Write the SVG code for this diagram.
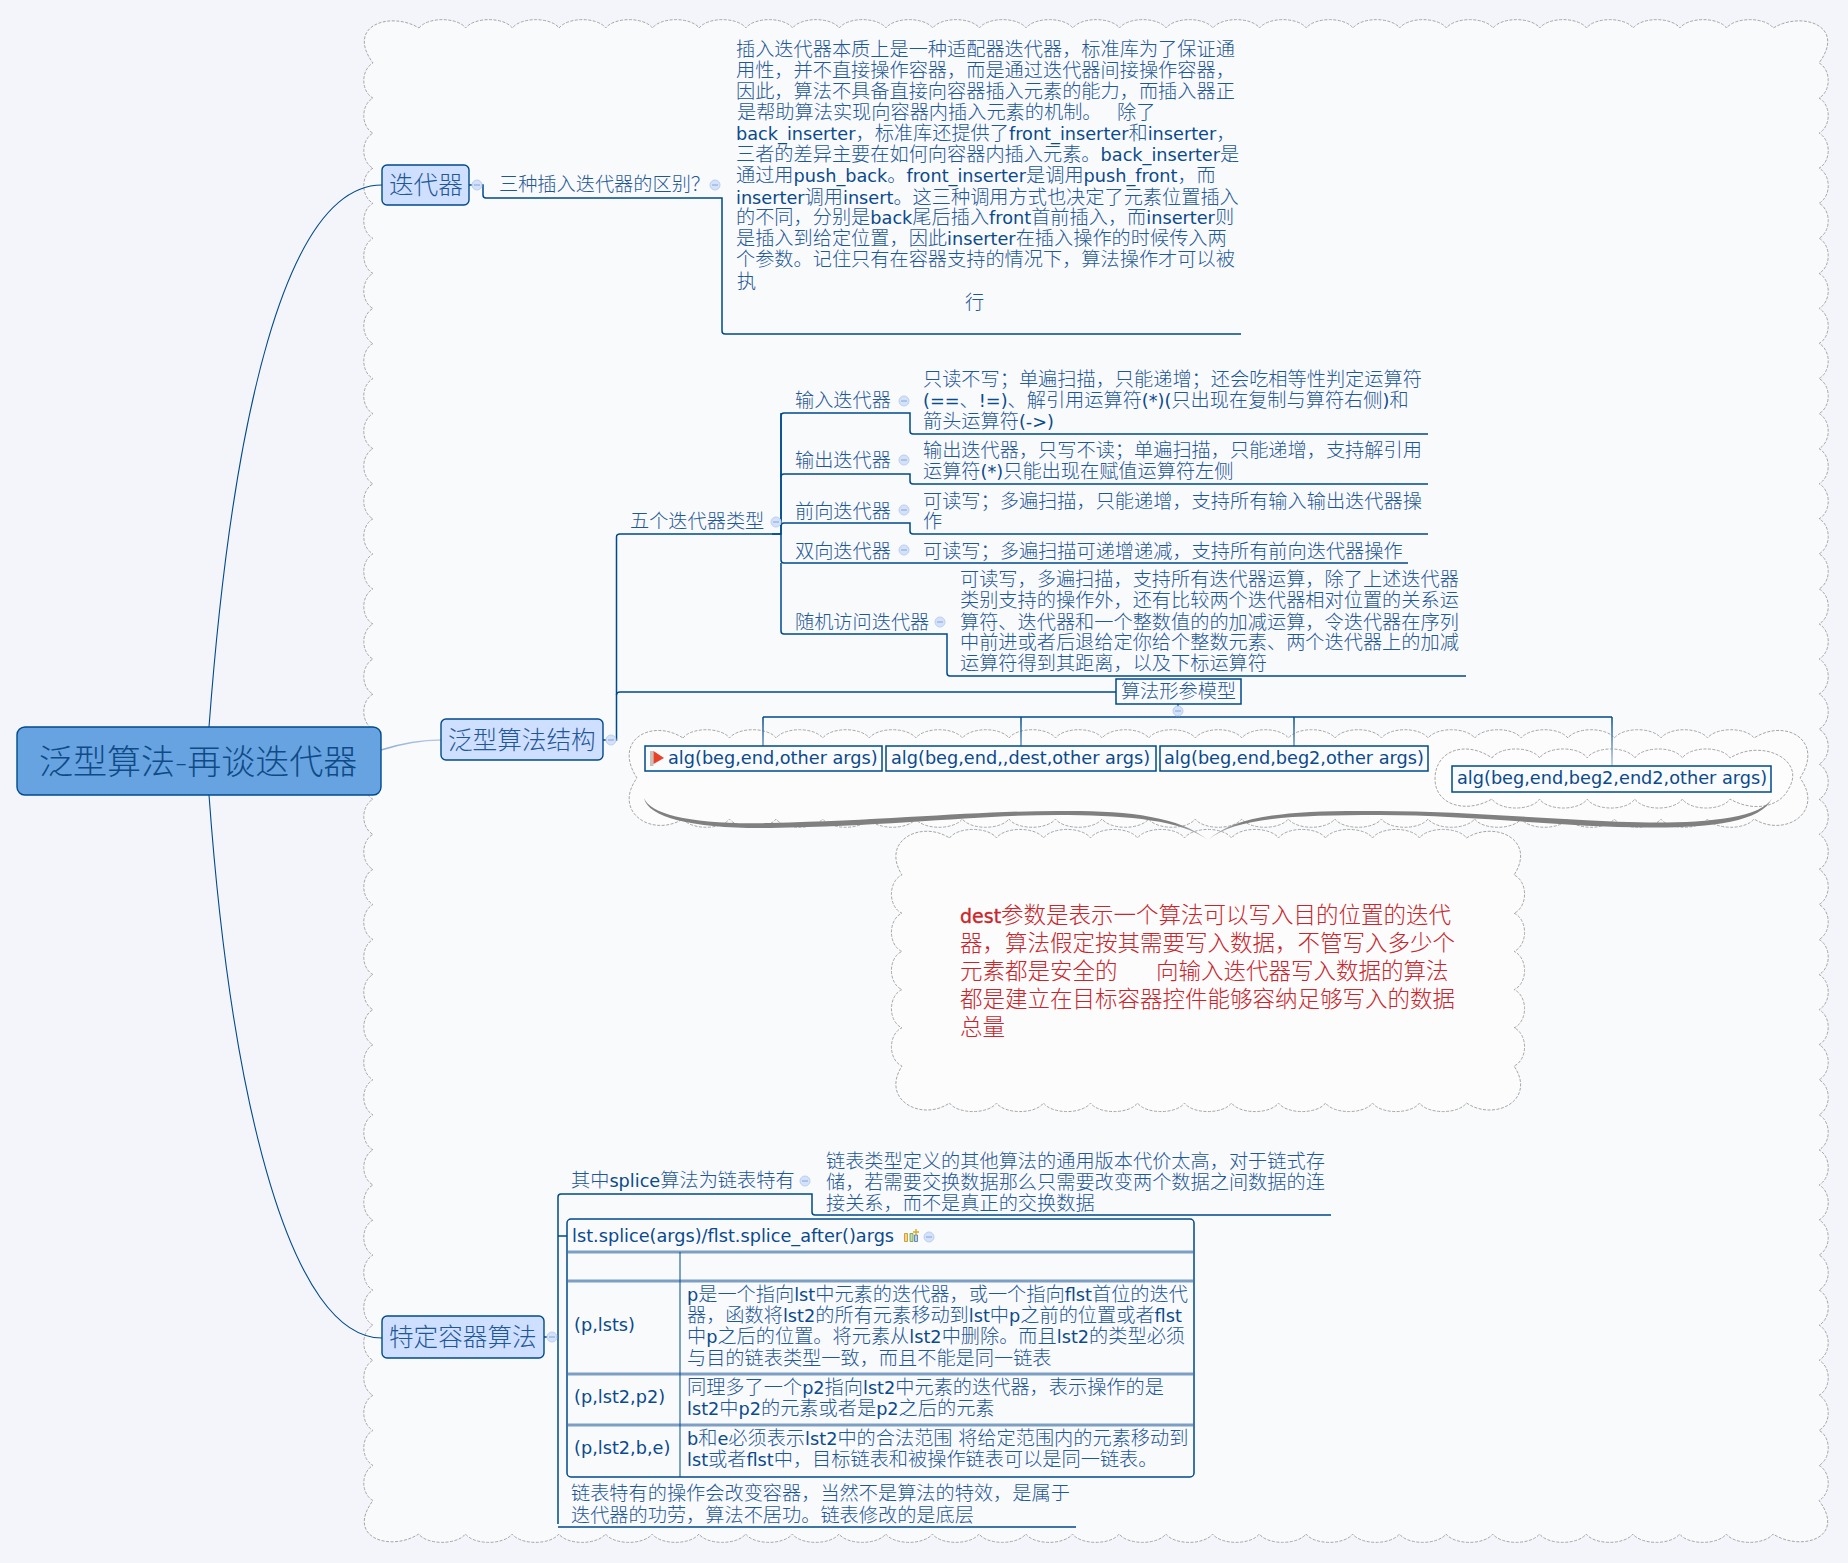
<svg xmlns="http://www.w3.org/2000/svg" width="1848" height="1563" viewBox="0 0 1848 1563">
<style>
text{font-family:"DejaVu Sans","Noto Sans CJK SC",sans-serif;fill:#1f5895;font-weight:300}
.t{font-size:19.2px}
.l{font-size:17.7px;fill:#0b4a8c;font-weight:400}
.a{font-size:17.7px;fill:#0b4a8c;font-weight:400}
.n1{font-size:24.6px}
.r{font-size:22.5px;fill:#c9252b}
.r .l{font-size:19px;font-weight:400;fill:#c9252b;stroke:#c9252b;stroke-width:.35}
.c{fill:#fff;fill-opacity:.45;stroke:#a6a6a6;stroke-width:1;stroke-dasharray:3 1.5}
.big{fill:#f9fafc;stroke:#a6a6a6;stroke-width:1;stroke-dasharray:3 1.5}
.cn{fill:none;stroke:#004a8c;stroke-width:1.5}
.cu{fill:none;stroke:#004a8c;stroke-width:1.1}
.lv1{fill:#cfdfff;stroke:#004a8c;stroke-width:1.4}
.box{fill:#fafbfd;stroke:#004a8c;stroke-width:1.5}
.h{fill:#d3e1fa;stroke:#bcd0f0;stroke-width:1}
.hm{stroke:#88a6d0;stroke-width:1}
.rule{stroke:#7d9fc4;stroke-width:3}
</style>
<defs>
<linearGradient id="fade" gradientUnits="userSpaceOnUse" x1="0" y1="717" x2="0" y2="766"><stop offset="0" stop-color="#004a8c"/><stop offset="1" stop-color="#b5c9e2"/></linearGradient>
<linearGradient id="fade2" gradientUnits="userSpaceOnUse" x1="381" y1="0" x2="441" y2="0"><stop offset="0" stop-color="#8fb0d4"/><stop offset="1" stop-color="#b9cbe2"/></linearGradient>
<linearGradient id="swL" gradientUnits="userSpaceOnUse" x1="1175" y1="0" x2="1208" y2="0"><stop offset="0" stop-color="#808080"/><stop offset="1" stop-color="#c4c4c4"/></linearGradient>
<linearGradient id="swR" gradientUnits="userSpaceOnUse" x1="1241" y1="0" x2="1208" y2="0"><stop offset="0" stop-color="#808080"/><stop offset="1" stop-color="#c4c4c4"/></linearGradient>
<g id="hd"><circle r="5" class="h"/><path d="M-3 0H3" class="hm"/></g>
</defs>
<rect width="1848" height="1563" fill="#f3f5fa"/>
<g id="boundaries">
<path class="big" d="M419,28 a25 13 0 0 1 46.7 0 a25 13 0 0 1 46.7 0 a25 13 0 0 1 46.7 0 a25 13 0 0 1 46.7 0 a25 13 0 0 1 46.7 0 a25 13 0 0 1 46.7 0 a25 13 0 0 1 46.7 0 a25 13 0 0 1 46.7 0 a25 13 0 0 1 46.7 0 a25 13 0 0 1 46.7 0 a25 13 0 0 1 46.7 0 a25 13 0 0 1 46.7 0 a25 13 0 0 1 46.7 0 a25 13 0 0 1 46.7 0 a25 13 0 0 1 46.7 0 a25 13 0 0 1 46.7 0 a25 13 0 0 1 46.7 0 a25 13 0 0 1 46.7 0 a25 13 0 0 1 46.7 0 a25 13 0 0 1 46.7 0 a25 13 0 0 1 46.7 0 a25 13 0 0 1 46.7 0 a25 13 0 0 1 46.7 0 a25 13 0 0 1 46.7 0 a25 13 0 0 1 46.7 0 a25 13 0 0 1 46.7 0 a25 13 0 0 1 46.7 0 a25 13 0 0 1 46.7 0 a25 13 0 0 1 46.7 0
C1801,11 1847,25 1819,63
a15 19 0 0 1 0 35.06 a15 19 0 0 1 0 35.06 a15 19 0 0 1 0 35.06 a15 19 0 0 1 0 35.06 a15 19 0 0 1 0 35.06 a15 19 0 0 1 0 35.06 a15 19 0 0 1 0 35.06 a15 19 0 0 1 0 35.06 a15 19 0 0 1 0 35.06 a15 19 0 0 1 0 35.06 a15 19 0 0 1 0 35.06 a15 19 0 0 1 0 35.06 a15 19 0 0 1 0 35.06 a15 19 0 0 1 0 35.06 a15 19 0 0 1 0 35.06 a15 19 0 0 1 0 35.06 a15 19 0 0 1 0 35.06 a15 19 0 0 1 0 35.06 a15 19 0 0 1 0 35.06 a15 19 0 0 1 0 35.06 a15 19 0 0 1 0 35.06 a15 19 0 0 1 0 35.06 a15 19 0 0 1 0 35.06 a15 19 0 0 1 0 35.06 a15 19 0 0 1 0 35.06 a15 19 0 0 1 0 35.06 a15 19 0 0 1 0 35.06 a15 19 0 0 1 0 35.06 a15 19 0 0 1 0 35.06 a15 19 0 0 1 0 35.06 a15 19 0 0 1 0 35.06 a15 19 0 0 1 0 35.06 a15 19 0 0 1 0 35.06 a15 19 0 0 1 0 35.06 a15 19 0 0 1 0 35.06 a15 19 0 0 1 0 35.06 a15 19 0 0 1 0 35.06 a15 19 0 0 1 0 35.06 a15 19 0 0 1 0 35.06 a15 19 0 0 1 0 35.06 a15 19 0 0 1 0 35.06
C1847,1538 1801,1552 1773,1534
a25 13 0 0 1 -46.7 0 a25 13 0 0 1 -46.7 0 a25 13 0 0 1 -46.7 0 a25 13 0 0 1 -46.7 0 a25 13 0 0 1 -46.7 0 a25 13 0 0 1 -46.7 0 a25 13 0 0 1 -46.7 0 a25 13 0 0 1 -46.7 0 a25 13 0 0 1 -46.7 0 a25 13 0 0 1 -46.7 0 a25 13 0 0 1 -46.7 0 a25 13 0 0 1 -46.7 0 a25 13 0 0 1 -46.7 0 a25 13 0 0 1 -46.7 0 a25 13 0 0 1 -46.7 0 a25 13 0 0 1 -46.7 0 a25 13 0 0 1 -46.7 0 a25 13 0 0 1 -46.7 0 a25 13 0 0 1 -46.7 0 a25 13 0 0 1 -46.7 0 a25 13 0 0 1 -46.7 0 a25 13 0 0 1 -46.7 0 a25 13 0 0 1 -46.7 0 a25 13 0 0 1 -46.7 0 a25 13 0 0 1 -46.7 0 a25 13 0 0 1 -46.7 0 a25 13 0 0 1 -46.7 0 a25 13 0 0 1 -46.7 0 a25 13 0 0 1 -46.7 0
C391,1552 345,1538 373,1500.5
a15 19 0 0 1 0 -35.06 a15 19 0 0 1 0 -35.06 a15 19 0 0 1 0 -35.06 a15 19 0 0 1 0 -35.06 a15 19 0 0 1 0 -35.06 a15 19 0 0 1 0 -35.06 a15 19 0 0 1 0 -35.06 a15 19 0 0 1 0 -35.06 a15 19 0 0 1 0 -35.06 a15 19 0 0 1 0 -35.06 a15 19 0 0 1 0 -35.06 a15 19 0 0 1 0 -35.06 a15 19 0 0 1 0 -35.06 a15 19 0 0 1 0 -35.06 a15 19 0 0 1 0 -35.06 a15 19 0 0 1 0 -35.06 a15 19 0 0 1 0 -35.06 a15 19 0 0 1 0 -35.06 a15 19 0 0 1 0 -35.06 a15 19 0 0 1 0 -35.06 a15 19 0 0 1 0 -35.06 a15 19 0 0 1 0 -35.06 a15 19 0 0 1 0 -35.06 a15 19 0 0 1 0 -35.06 a15 19 0 0 1 0 -35.06 a15 19 0 0 1 0 -35.06 a15 19 0 0 1 0 -35.06 a15 19 0 0 1 0 -35.06 a15 19 0 0 1 0 -35.06 a15 19 0 0 1 0 -35.06 a15 19 0 0 1 0 -35.06 a15 19 0 0 1 0 -35.06 a15 19 0 0 1 0 -35.06 a15 19 0 0 1 0 -35.06 a15 19 0 0 1 0 -35.06 a15 19 0 0 1 0 -35.06 a15 19 0 0 1 0 -35.06 a15 19 0 0 1 0 -35.06 a15 19 0 0 1 0 -35.06 a15 19 0 0 1 0 -35.06 a15 19 0 0 1 0 -35.06
C345,25 391,11 419,28Z"/>
<path class="c" d="M683,738 a25 13 0 0 1 46.57 0 a25 13 0 0 1 46.57 0 a25 13 0 0 1 46.57 0 a25 13 0 0 1 46.57 0 a25 13 0 0 1 46.57 0 a25 13 0 0 1 46.57 0 a25 13 0 0 1 46.57 0 a25 13 0 0 1 46.57 0 a25 13 0 0 1 46.57 0 a25 13 0 0 1 46.57 0 a25 13 0 0 1 46.57 0 a25 13 0 0 1 46.57 0 a25 13 0 0 1 46.57 0 a25 13 0 0 1 46.57 0 a25 13 0 0 1 46.57 0 a25 13 0 0 1 46.57 0 a25 13 0 0 1 46.57 0 a25 13 0 0 1 46.57 0 a25 13 0 0 1 46.57 0 a25 13 0 0 1 46.57 0 a25 13 0 0 1 46.57 0 a25 13 0 0 1 46.57 0 a25 13 0 0 1 46.57 0
C1785,718 1825,740 1800,778 C1825,812 1785,838 1754,819
a25 13 0 0 1 -46.57 0 a25 13 0 0 1 -46.57 0 a25 13 0 0 1 -46.57 0 a25 13 0 0 1 -46.57 0 a25 13 0 0 1 -46.57 0 a25 13 0 0 1 -46.57 0 a25 13 0 0 1 -46.57 0 a25 13 0 0 1 -46.57 0 a25 13 0 0 1 -46.57 0 a25 13 0 0 1 -46.57 0 a25 13 0 0 1 -46.57 0 a25 13 0 0 1 -46.57 0 a25 13 0 0 1 -46.57 0 a25 13 0 0 1 -46.57 0 a25 13 0 0 1 -46.57 0 a25 13 0 0 1 -46.57 0 a25 13 0 0 1 -46.57 0 a25 13 0 0 1 -46.57 0 a25 13 0 0 1 -46.57 0 a25 13 0 0 1 -46.57 0 a25 13 0 0 1 -46.57 0 a25 13 0 0 1 -46.57 0 a25 13 0 0 1 -46.57 0
C652,838 612,812 637,778 C612,740 652,718 683,738Z"/>
<path class="c" d="M1492,758 a25 13 0 0 1 47.6 0 a25 13 0 0 1 47.6 0 a25 13 0 0 1 47.6 0 a25 13 0 0 1 47.6 0 a25 13 0 0 1 47.6 0 C1762,738 1806,760 1789,788 C1780,808 1752,812 1730,799 a25 13 0 0 1 -47.6 0 a25 13 0 0 1 -47.6 0 a25 13 0 0 1 -47.6 0 a25 13 0 0 1 -47.6 0 a25 13 0 0 1 -47.6 0 C1466,814 1435,805 1435,779 C1435,750 1466,740 1492,758Z"/>
<path class="c" d="M949.5,838 a25 13 0 0 1 47 0 a25 13 0 0 1 47 0 a25 13 0 0 1 47 0 a25 13 0 0 1 47 0 a25 13 0 0 1 47 0 a25 13 0 0 1 47 0 a25 13 0 0 1 47 0 a25 13 0 0 1 47 0 a25 13 0 0 1 47 0 a25 13 0 0 1 47 0 a25 13 0 0 1 47 0 C1495,820 1537,840 1514,875 a15 20 0 0 1 0 38.2 a15 20 0 0 1 0 38.2 a15 20 0 0 1 0 38.2 a15 20 0 0 1 0 38.2 a15 20 0 0 1 0 38.2 C1537,1100 1495,1122 1466.5,1103 a25 13 0 0 1 -47 0 a25 13 0 0 1 -47 0 a25 13 0 0 1 -47 0 a25 13 0 0 1 -47 0 a25 13 0 0 1 -47 0 a25 13 0 0 1 -47 0 a25 13 0 0 1 -47 0 a25 13 0 0 1 -47 0 a25 13 0 0 1 -47 0 a25 13 0 0 1 -47 0 a25 13 0 0 1 -47 0 C922,1122 880,1100 902,1066 a15 20 0 0 1 0 -38.2 a15 20 0 0 1 0 -38.2 a15 20 0 0 1 0 -38.2 a15 20 0 0 1 0 -38.2 a15 20 0 0 1 0 -38.2 C880,840 922,820 949.5,838Z"/>
</g>
<g id="connectors">
<path class="cu" d="M209,727C232,420 285,185 382,185"/>
<path class="cu" d="M209,795C232,1110 292,1338 382,1338"/>
<path d="M381,750C400,744 420,740 441,740" fill="none" stroke="url(#fade2)" stroke-width="1.5"/>
<path class="cn" d="M469,185H483V195Q483,198 486,198H722V331Q722,334 725,334H1241"/>
<path class="cn" d="M603,740H616.5V537Q616.5,534 620,534H781"/>
<path class="cn" d="M616.5,695Q616.5,692 620,692H1116"/>
<path class="cn" d="M772,534H781V416Q781,413 784,413H910V431Q910,434 913,434H1428"/>
<path class="cn" d="M781,477Q781,474 784,474H910V481Q910,484 913,484H1428"/>
<path class="cn" d="M781,526Q781,523 784,523H910V531Q910,534 913,534H1428"/>
<path class="cn" d="M781,413V560Q781,563 784,563H1408"/>
<path class="cn" d="M781,563V631Q781,634 784,634H947V673Q947,676 950,676H1466"/>
<path class="cn" d="M1178,704V717M763,717H1612"/>
<path d="M763,717V746M1021,717V746M1294,717V746M1612,717V766" fill="none" stroke="url(#fade)" stroke-width="1.5"/>
<path class="cn" d="M544,1337H558M567,1236H558M558,1527Q558,1527 561,1527H1076M558,1524V1197Q558,1194 561,1194H812V1212Q812,1215 815,1215H1331"/>
</g>
<g id="brace">
<path fill="url(#swL)" d="M644,798C650,815 695,825 770,823C900,820 985,810 1069,811C1130,811 1180,817 1208,840C1180,820 1130,816 1069,815C985,814 900,826 770,828C695,829 648,818 644,798Z"/>
<path fill="url(#swR)" d="M1772,798C1762,818 1705,823 1649,822.5C1560,821 1470,811 1379,811C1290,810 1235,815 1208,840C1235,818 1290,815 1379,815C1470,815 1560,827 1649,827.5C1705,828 1762,823 1772,798Z"/>
</g>
<g id="n-root"><rect x="17" y="727" width="364" height="68" rx="8" fill="#66a3e0" stroke="#004a8c" stroke-width="1.4"/><text x="39" y="774" font-size="34" style="fill:#0f4a86">泛型算法-再谈迭代器</text></g>
<g id="n-iter"><rect class="lv1" x="382" y="165" width="87" height="40" rx="5"/><text class="n1" x="389" y="194">迭代器</text><use href="#hd" x="477" y="185"/></g>
<g id="n-iter-q"><text class="t" x="499" y="191">三种插入迭代器的区别？</text><use href="#hd" x="715" y="185"/></g>
<g id="n-iter-d"><text class="t">
<tspan x="736" y="56">插入迭代器本质上是一种适配器迭代器，标准库为了保证通</tspan>
<tspan x="736" y="77">用性，并不直接操作容器，而是通过迭代器间接操作容器，</tspan>
<tspan x="736" y="98">因此，算法不具备直接向容器插入元素的能力，而插入器正</tspan>
<tspan x="737" y="119">是帮助算法实现向容器内插入元素的机制。</tspan><tspan x="1117" y="119">除了</tspan>
<tspan x="736" y="140" class="l">back_inserter</tspan><tspan>，标准库还提供了</tspan><tspan class="l">front_inserter</tspan><tspan>和</tspan><tspan class="l">inserter</tspan><tspan>，</tspan>
<tspan x="736" y="161">三者的差异主要在如何向容器内插入元素。</tspan><tspan class="l">back_inserter</tspan><tspan>是</tspan>
<tspan x="736" y="182">通过用</tspan><tspan class="l">push_back</tspan><tspan>。</tspan><tspan class="l">front_inserter</tspan><tspan>是调用</tspan><tspan class="l">push_front</tspan><tspan>，而</tspan>
<tspan x="736" y="204" class="l">inserter</tspan><tspan>调用</tspan><tspan class="l">insert</tspan><tspan>。这三种调用方式也决定了元素位置插入</tspan>
<tspan x="736" y="224">的不同，分别是</tspan><tspan class="l">back</tspan><tspan>尾后插入</tspan><tspan class="l">front</tspan><tspan>首前插入，而</tspan><tspan class="l">inserter</tspan><tspan>则</tspan>
<tspan x="736" y="245">是插入到给定位置，因此</tspan><tspan class="l">inserter</tspan><tspan>在插入操作的时候传入两</tspan>
<tspan x="736" y="266">个参数。记住只有在容器支持的情况下，算法操作才可以被</tspan>
<tspan x="737" y="288">执</tspan>
<tspan x="965" y="309">行</tspan></text></g>
<g id="n-struct"><rect class="lv1" x="441" y="719" width="162" height="41" rx="5"/><text class="n1" x="448" y="749">泛型算法结构</text><use href="#hd" x="611" y="740"/></g>
<g id="n-five"><text class="t" x="630" y="528">五个迭代器类型</text><use href="#hd" x="776" y="522"/></g>
<g id="n-input"><text class="t" x="795" y="407">输入迭代器</text><use href="#hd" x="904" y="401"/><text class="t"><tspan x="923" y="386">只读不写；单遍扫描，只能递增；还会吃相等性判定运算符</tspan><tspan x="923" y="407" class="l">(==</tspan><tspan>、</tspan><tspan class="l">!=)</tspan><tspan>、解引用运算符</tspan><tspan class="l">(*)(</tspan><tspan>只出现在复制与算符右侧</tspan><tspan class="l">)</tspan><tspan>和</tspan><tspan x="923" y="428">箭头运算符</tspan><tspan class="l">(-&gt;)</tspan></text></g>
<g id="n-output"><text class="t" x="795" y="467">输出迭代器</text><use href="#hd" x="904" y="460"/><text class="t"><tspan x="923" y="457">输出迭代器，只写不读；单遍扫描，只能递增，支持解引用</tspan><tspan x="923" y="478">运算符</tspan><tspan class="l">(*)</tspan><tspan>只能出现在赋值运算符左侧</tspan></text></g>
<g id="n-forward"><text class="t" x="795" y="518">前向迭代器</text><use href="#hd" x="904" y="510"/><text class="t"><tspan x="923" y="508">可读写；多遍扫描，只能递增，支持所有输入输出迭代器操</tspan><tspan x="923" y="528">作</tspan></text></g>
<g id="n-bidir"><text class="t" x="795" y="558">双向迭代器</text><use href="#hd" x="904" y="550"/><text class="t" x="923" y="558">可读写；多遍扫描可递增递减，支持所有前向迭代器操作</text></g>
<g id="n-random"><text class="t" x="795" y="629">随机访问迭代器</text><use href="#hd" x="940" y="622"/><text class="t"><tspan x="960" y="586">可读写，多遍扫描，支持所有迭代器运算，除了上述迭代器</tspan><tspan x="960" y="607">类别支持的操作外，还有比较两个迭代器相对位置的关系运</tspan><tspan x="960" y="629">算符、迭代器和一个整数值的的加减运算，令迭代器在序列</tspan><tspan x="960" y="649">中前进或者后退给定你给个整数元素、两个迭代器上的加减</tspan><tspan x="960" y="670">运算符得到其距离，以及下标运算符</tspan></text></g>
<g id="n-param"><rect class="box" x="1116" y="679" width="125" height="25"/><text class="t" x="1178.5" y="698" text-anchor="middle">算法形参模型</text><use href="#hd" x="1178" y="711"/></g>
<g id="n-alg1"><rect class="box" x="645" y="746" width="237" height="25"/><path d="M650,751h3.5v15h-3.5z" fill="#c9c0b8"/><path d="M653.5,751L664,758L653.5,764Z" fill="#e8412a"/><text class="a" x="668" y="764">alg(beg,end,other args)</text></g>
<g id="n-alg2"><rect class="box" x="886" y="746" width="270" height="25"/><text class="a" x="891" y="764">alg(beg,end,,dest,other args)</text></g>
<g id="n-alg3"><rect class="box" x="1160" y="746" width="268" height="25"/><text class="a" x="1164" y="764">alg(beg,end,beg2,other args)</text></g>
<g id="n-alg4"><rect class="box" x="1452" y="766" width="319" height="26"/><text class="a" x="1457" y="784">alg(beg,end,beg2,end2,other args)</text></g>
<g id="n-note"><text class="r"><tspan x="960" y="923" class="l">dest</tspan><tspan>参数是表示一个算法可以写入目的位置的迭代</tspan><tspan x="960" y="951">器，算法假定按其需要写入数据，不管写入多少个</tspan><tspan x="960" y="979">元素都是安全的</tspan><tspan x="1156" y="979">向输入迭代器写入数据的算法</tspan><tspan x="960" y="1007">都是建立在目标容器控件能够容纳足够写入的数据</tspan><tspan x="960" y="1035">总量</tspan></text></g>
<g id="n-special"><rect class="lv1" x="382" y="1316" width="162" height="42" rx="5"/><text class="n1" x="389" y="1346">特定容器算法</text><use href="#hd" x="552" y="1337"/></g>
<g id="n-splice"><text class="t" x="571" y="1187">其中<tspan class="l">splice</tspan>算法为链表特有</text><use href="#hd" x="805" y="1181"/><text class="t"><tspan x="826" y="1168">链表类型定义的其他算法的通用版本代价太高，对于链式存</tspan><tspan x="826" y="1189">储，若需要交换数据那么只需要改变两个数据之间数据的连</tspan><tspan x="826" y="1210">接关系，而不是真正的交换数据</tspan></text></g>
<g id="n-table"><rect x="567" y="1219" width="627" height="258" rx="4" fill="#f9fafc" stroke="#004a8c" stroke-width="1.5"/>
<path class="rule" d="M568,1252H1193M568,1281H1193M568,1374H1193M568,1425H1193"/>
<path d="M680,1252V1477" stroke="#004a8c" stroke-width="1"/>
<text class="a" x="572" y="1242">lst.splice(args)/flst.splice_after()args</text>
<path d="M904.5,1233.5h3v8h-3z" fill="#f2d48a" stroke="#c98d1a" stroke-width=".8"/><path d="M910,1233.5h3v8h-3z" fill="#bfe0a8" stroke="#6b9a4a" stroke-width=".8"/><path d="M914.500,1235h3v6.500h-3z" fill="#bcd0ee" stroke="#4a74a8" stroke-width=".8"/><path d="M916,1229v6M913,1232h6" stroke="#e0a820" stroke-width="1.400"/>
<use href="#hd" x="929" y="1237"/>
<text class="a" x="574" y="1331">(p,lsts)</text><text class="a" x="574" y="1403">(p,lst2,p2)</text><text class="a" x="574" y="1454">(p,lst2,b,e)</text>
<text class="t"><tspan x="687" y="1301" class="l">p</tspan><tspan>是一个指向</tspan><tspan class="l">lst</tspan><tspan>中元素的迭代器，或一个指向</tspan><tspan class="l">flst</tspan><tspan>首位的迭代</tspan><tspan x="687" y="1322">器，函数将</tspan><tspan class="l">lst2</tspan><tspan>的所有元素移动到</tspan><tspan class="l">lst</tspan><tspan>中</tspan><tspan class="l">p</tspan><tspan>之前的位置或者</tspan><tspan class="l">flst</tspan><tspan x="687" y="1343">中</tspan><tspan class="l">p</tspan><tspan>之后的位置。将元素从</tspan><tspan class="l">lst2</tspan><tspan>中删除。而且</tspan><tspan class="l">lst2</tspan><tspan>的类型必须</tspan><tspan x="687" y="1365">与目的链表类型一致，而且不能是同一链表</tspan>
<tspan x="687" y="1394">同理多了一个</tspan><tspan class="l">p2</tspan><tspan>指向</tspan><tspan class="l">lst2</tspan><tspan>中元素的迭代器，表示操作的是</tspan><tspan x="687" y="1415" class="l">lst2</tspan><tspan>中</tspan><tspan class="l">p2</tspan><tspan>的元素或者是</tspan><tspan class="l">p2</tspan><tspan>之后的元素</tspan>
<tspan x="687" y="1445" class="l">b</tspan><tspan>和</tspan><tspan class="l">e</tspan><tspan>必须表示</tspan><tspan class="l">lst2</tspan><tspan>中的合法范围</tspan><tspan class="l"> </tspan><tspan>将给定范围内的元素移动到</tspan><tspan x="687" y="1466" class="l">lst</tspan><tspan>或者</tspan><tspan class="l">flst</tspan><tspan>中，目标链表和被操作链表可以是同一链表。</tspan></text></g>
<g id="n-listop"><text class="t"><tspan x="571" y="1500">链表特有的操作会改变容器，当然不是算法的特效，是属于</tspan><tspan x="571" y="1522">迭代器的功劳，算法不居功。链表修改的是底层</tspan></text></g>
</svg>
